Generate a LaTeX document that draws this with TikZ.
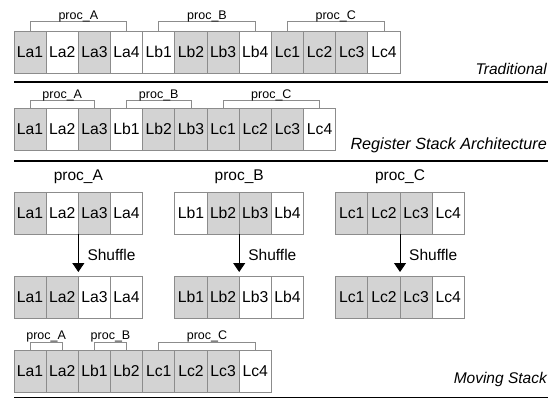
\documentclass[tikz,border=0pt]{standalone}
\usepackage{fontspec}
\setmainfont{Liberation Sans}
\usetikzlibrary{arrows.meta,calc}
\definecolor{cellgray}{HTML}{D3D3D3}
\definecolor{edgegray}{HTML}{8C8C8C}
\begin{document}
\begin{tikzpicture}[x=1pt,y=-1pt,
  cell/.style={draw=edgegray,line width=0.8pt,minimum width=32.17pt,minimum height=42pt,inner sep=0pt,outer sep=0pt,font=\fontsize{15.7}{18}\selectfont},
  g/.style={fill=cellgray}, w/.style={fill=white},
  brk/.style={draw=edgegray,line width=0.8pt},
  plab/.style={anchor=base,inner sep=0pt,font=\fontsize{12.5}{14}\selectfont},
  biglab/.style={anchor=base,inner sep=0pt,font=\fontsize{15.5}{18}\selectfont},
  archlab/.style={anchor=base east,inner sep=0pt,font=\fontsize{15.5}{18}\selectfont\itshape},
  sepline/.style={line width=1.1pt},
  arr/.style={line width=0.9pt,-{Triangle[width=12pt,length=9pt]}}]
\useasboundingbox (0,0) rectangle (555,399);

% ---- Traditional
\foreach \lab/\f [count=\i] in {La1/g,La2/w,La3/g,La4/w,Lb1/w,Lb2/g,Lb3/g,Lb4/w,Lc1/g,Lc2/g,Lc3/g,Lc4/w}
  \node[cell,\f] (t\i) at ({14+32.17*(\i-0.5)},52) {\lab};
\draw[brk] (t1.north) -- ++(0,-10) -| (t4.north);
\draw[brk] (t5.north) -- ++(0,-10) -| (t8.north);
\draw[brk] (t9.north) -- ++(0,-10) -| (t12.north);
\node[plab] (tpa) at ($(t1.north)!0.5!(t4.north)+(0,-11.5)$) {proc\_A};
\node[plab] (tpb) at ($(t5.north)!0.5!(t8.north)+(0,-11.5)$) {proc\_B};
\node[plab] (tpc) at ($(t9.north)!0.5!(t12.north)+(0,-11.5)$) {proc\_C};
\node[archlab] (trad) at (547,74) {Traditional};
\coordinate (s1a) at (14,82); \coordinate (s1b) at (548,82);
\draw[sepline] (s1a) -- (s1b);

% ---- Register Stack Architecture
\foreach \lab/\f [count=\i] in {La1/g,La2/w,La3/g,Lb1/w,Lb2/g,Lb3/g,Lc1/g,Lc2/g,Lc3/g,Lc4/w}
  \node[cell,\f] (r\i) at ({14+32.17*(\i-0.5)},129) {\lab};
\draw[brk] (r1.north) -- ++(0,-8) -| (r3.north);
\draw[brk] (r4.north) -- ++(0,-8) -| (r6.north);
\draw[brk] (r7.north) -- ++(0,-8) -| (r10.north);
\node[plab] (rpa) at ($(r1.north)!0.5!(r3.north)+(0,-10)$) {proc\_A};
\node[plab] (rpb) at ($(r4.north)!0.5!(r6.north)+(0,-10)$) {proc\_B};
\node[plab] (rpc) at ($(r7.north)!0.5!(r10.north)+(0,-10)$) {proc\_C};
\node[archlab,font=\fontsize{16.2}{18}\selectfont\itshape] (rsa) at (547,149) {Register Stack Architecture};
\coordinate (s2a) at (14,161); \coordinate (s2b) at (548,161);
\draw[sepline] (s2a) -- (s2b);

% ---- Moving Stack: before shuffle
\foreach \lab/\f [count=\i] in {La1/g,La2/w,La3/g,La4/w}
  \node[cell,\f] (sa\i) at ({14+32.17*(\i-0.5)},213) {\lab};
\foreach \lab/\f [count=\i] in {Lb1/w,Lb2/g,Lb3/g,Lb4/w}
  \node[cell,\f] (sb\i) at ({174.85+32.17*(\i-0.5)},213) {\lab};
\foreach \lab/\f [count=\i] in {Lc1/g,Lc2/g,Lc3/g,Lc4/w}
  \node[cell,\f] (sc\i) at ({335.7+32.17*(\i-0.5)},213) {\lab};
\node[biglab] (ga) at ($(sa2.north east)+(0,-12)$) {proc\_A};
\node[biglab] (gb) at ($(sb2.north east)+(0,-12)$) {proc\_B};
\node[biglab] (gc) at ($(sc2.north east)+(0,-12)$) {proc\_C};

% ---- after shuffle
\foreach \lab/\f [count=\i] in {La1/g,La2/g,La3/w,La4/w}
  \node[cell,\f] (ea\i) at ({14+32.17*(\i-0.5)},297) {\lab};
\foreach \lab/\f [count=\i] in {Lb1/g,Lb2/g,Lb3/w,Lb4/w}
  \node[cell,\f] (eb\i) at ({174.85+32.17*(\i-0.5)},297) {\lab};
\foreach \lab/\f [count=\i] in {Lc1/g,Lc2/g,Lc3/g,Lc4/w}
  \node[cell,\f] (ec\i) at ({335.7+32.17*(\i-0.5)},297) {\lab};

\draw[arr] (sa2.south east) -- ([yshift=4pt]ea2.north east);
\draw[arr] (sb2.south east) -- ([yshift=4pt]eb2.north east);
\draw[arr] (sc2.south east) -- ([yshift=4pt]ec2.north east);
\node[biglab,anchor=base west] (sha) at ($(sa2.south east)+(9,26)$) {Shuffle};
\node[biglab,anchor=base west] (shb) at ($(sb2.south east)+(9,26)$) {Shuffle};
\node[biglab,anchor=base west] (shc) at ($(sc2.south east)+(9,26)$) {Shuffle};

% ---- Moving Stack result
\foreach \lab/\f [count=\i] in {La1/g,La2/g,Lb1/g,Lb2/g,Lc1/g,Lc2/g,Lc3/g,Lc4/w}
  \node[cell,\f] (m\i) at ({14+32.17*(\i-0.5)},371) {\lab};
\draw[brk] (m1.north) -- ++(0,-8) -| (m2.north);
\draw[brk] (m3.north) -- ++(0,-8) -| (m4.north);
\draw[brk] (m5.north) -- ++(0,-8) -| (m8.north);
\node[plab] (mpa) at ($(m1.north)!0.5!(m2.north)+(0,-11)$) {proc\_A};
\node[plab] (mpb) at ($(m3.north)!0.5!(m4.north)+(0,-11)$) {proc\_B};
\node[plab] (mpc) at ($(m5.north)!0.5!(m8.north)+(0,-11)$) {proc\_C};
\node[archlab] (mvs) at (547,383) {Moving Stack};
\coordinate (s3a) at (14,397.5); \coordinate (s3b) at (548,397.5);
\draw[sepline] (s3a) -- (s3b);
\end{tikzpicture}
\end{document}
